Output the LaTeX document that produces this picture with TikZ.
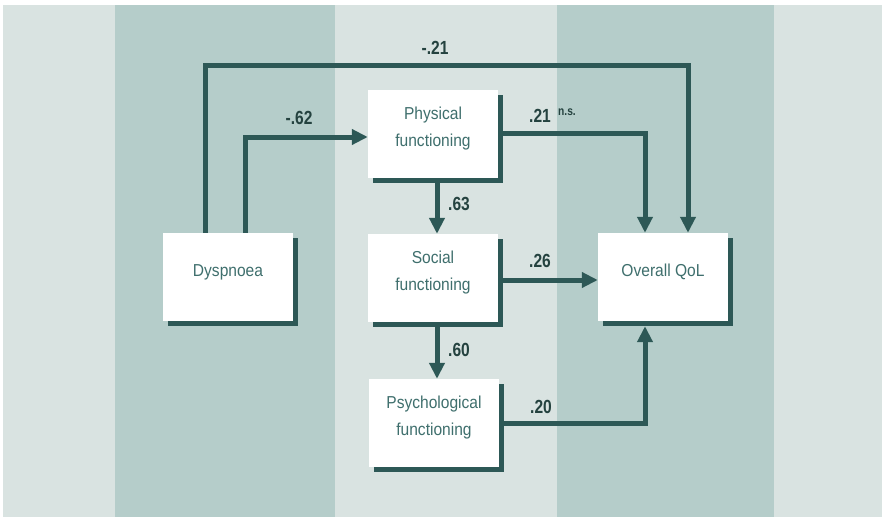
\documentclass[tikz,border=0pt]{standalone}
\usepackage{fontspec}
\setmainfont{Liberation Sans}[FakeStretch=0.9]
\newfontfamily\labfont{Liberation Sans}[FakeStretch=0.82]
\usetikzlibrary{arrows.meta,shadows}
\definecolor{lightbg}{HTML}{D9E3E1}
\definecolor{darkbg}{HTML}{B5CDCA}
\definecolor{linec}{HTML}{2D5856}
\definecolor{boxtext}{HTML}{3F6F6D}
\definecolor{labc}{HTML}{24423F}
\pgfdeclarelayer{bg}
\pgfsetlayers{bg,main}
\begin{document}
\begin{tikzpicture}[x=1pt,y=-1pt,
 box/.style={rectangle, fill=white, minimum width=130pt, minimum height=88pt, inner sep=0pt,
   drop shadow={shadow xshift=5pt,shadow yshift=-5pt,fill=linec,opacity=1}},
 boxtxt/.style={text=boxtext, align=center, font=\fontsize{17.3}{27}\selectfont, inner sep=0pt},
 conn/.style={draw=linec, line width=5pt, -{Triangle[length=16pt,width=15pt]}},
 lab/.style={text=labc, font=\labfont\bfseries\fontsize{19}{19}\selectfont, inner sep=0pt},
 labsmall/.style={text=labc, font=\labfont\bfseries\fontsize{12.5}{12.5}\selectfont, inner sep=0pt}]
\useasboundingbox (0,0) rectangle (885,519);
% boxes
\node[box] (dys) at (228,277) {};
\node[box] (phys) at (433,134) {};
\node[box] (soc) at (433,278) {};
\node[box] (qol) at (663,277) {};
\node[box] (psy) at (434,423) {};
% box texts
\node[boxtxt] (dysT) at ([yshift=5pt]dys.center) {Dyspnoea};
\node[boxtxt] (physT) at ([yshift=5pt]phys.center) {Physical\\functioning};
\node[boxtxt] (socT) at ([yshift=5pt]soc.center) {Social\\functioning};
\node[boxtxt] (qolT) at ([yshift=5pt]qol.center) {Overall QoL};
\node[boxtxt] (psyT) at ([yshift=5pt]psy.center) {Psychological\\functioning};
% labels
\node[lab] (l1) at (435,48) {-.21};
\node[lab] (l2) at (299,118) {-.62};
\node[lab] (l3) at (459,204) {.63};
\node[lab] (l4) at (540,116) {.21};
\node[labsmall] (l4b) at (567,112) {n.s.};
\node[lab] (l5) at (540,261) {.26};
\node[lab] (l6) at (459,350) {.60};
\node[lab] (l7) at (541,407) {.20};
\begin{pgfonlayer}{bg}
\fill[white] (0,0) rectangle (885,519);
\fill[lightbg] (3,5) rectangle (882,517);
\fill[darkbg] (115,5) rectangle (335,517);
\fill[darkbg] (557,5) rectangle (774,517);
\coordinate (top) at (0,65);
\coordinate (dA) at ([xshift=-23pt]dys.north);
\coordinate (dB) at ([xshift=17pt]dys.north);
\coordinate (qA) at ([xshift=25pt]qol.north);
\coordinate (qB) at ([xshift=-18pt]qol.north);
\coordinate (qC) at ([xshift=-18pt,yshift=-5pt]qol.south);
\coordinate (pE) at ([yshift=1pt]phys.east);
\coordinate (pW) at ([yshift=-3pt]phys.west);
\coordinate (pS) at ([xshift=4pt]phys.south);
\coordinate (sE) at ([yshift=-2pt]soc.east);
\coordinate (sS) at ([xshift=4pt]soc.south);
\draw[conn] (dA) |- (qA |- top) -- (qA);
\draw[conn] (dB) |- (pW);
\draw[conn] (pS) -- (pS |- soc.north);
\draw[conn] (pE) -| (qB);
\draw[conn] (sE) -- (sE -| qol.west);
\draw[conn] (sS) -- (sS |- psy.north);
\draw[conn] (psy.east) -| (qC);
\end{pgfonlayer}
\end{tikzpicture}
\end{document}
